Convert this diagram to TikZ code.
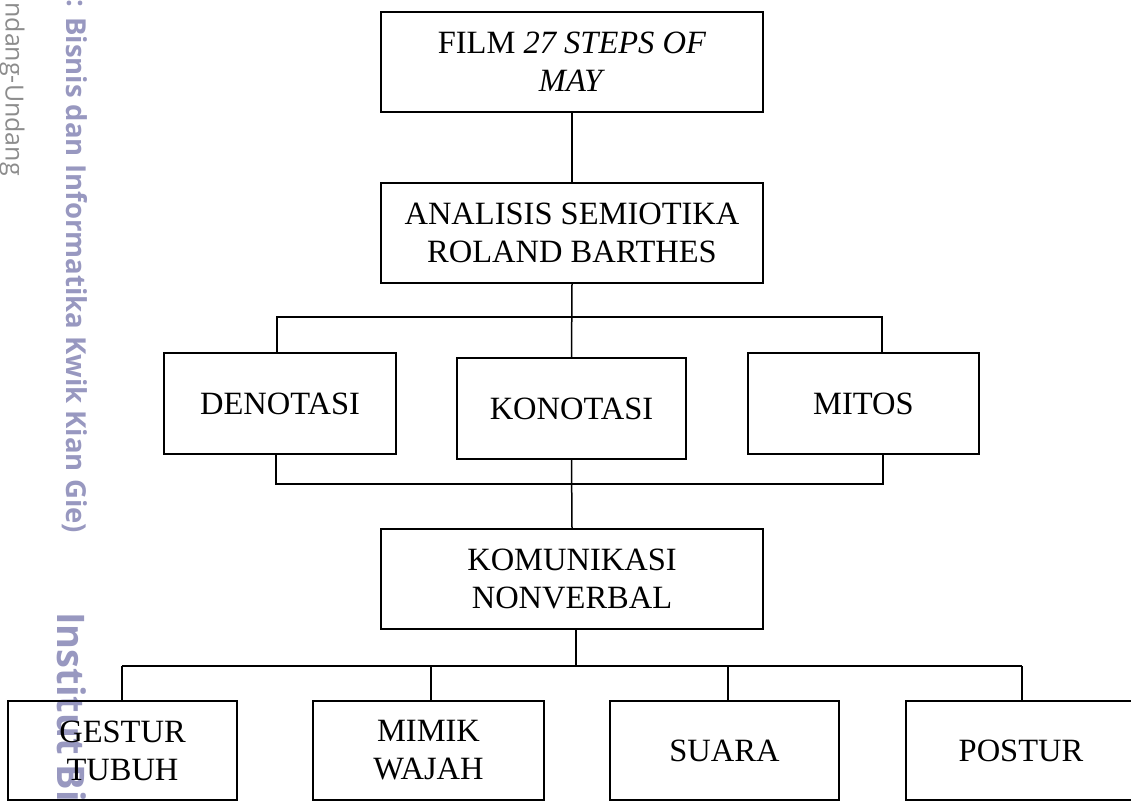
\documentclass[tikz,border=0pt]{standalone}
\usepackage{fontspec}
\setmainfont{Liberation Serif}
\newfontfamily\wmfont{Open Sans}
\definecolor{wmpurple}{RGB}{152,152,192}
\definecolor{wmgray}{RGB}{140,140,140}
\begin{document}
\begin{tikzpicture}[x=1pt,y=-1pt,
  box/.style={draw=black,line width=1.5pt,align=center,inner sep=0pt,
    font=\fontsize{32.5}{38}\selectfont},
  conn/.style={draw=black,line width=1.5pt},
  wm/.style={rotate=-90,inner sep=0pt,text=wmpurple,font=\wmfont\bfseries}]
\useasboundingbox (0,0) rectangle (1131,802);
% watermark
\node[rotate=-90,inner sep=0pt,text=wmgray,font=\wmfont\fontsize{25}{28}\selectfont,anchor=east] (wa) at (12,176) {ndang-Undang};
\node[wm,font=\wmfont\bfseries\fontsize{27.5}{30}\selectfont,anchor=west] (wb) at (75,17) {Bisnis dan Informatika Kwik Kian Gie)};
\node[wm,font=\wmfont\bfseries\fontsize{27.5}{30}\selectfont,anchor=east] (wc) at (75,8) {:};
\node[wm,font=\wmfont\bfseries\fontsize{38}{40}\selectfont,anchor=west] (wd) at (72,612) {Institut Bis};
% boxes
\node[box,minimum width=382pt,minimum height=100pt] (film) at (572,62) {FILM \textit{27 STEPS OF}\\\textit{MAY}};
\node[box,minimum width=382pt,minimum height=100pt] (ana) at (572,233) {ANALISIS SEMIOTIKA\\ROLAND BARTHES};
\node[box,minimum width=232pt,minimum height=101pt] (den) at (280,403.5) {DENOTASI};
\node[box,minimum width=229pt,minimum height=101pt] (kon) at (571.5,408.5) {KONOTASI};
\node[box,minimum width=231pt,minimum height=101pt] (mit) at (863.5,403.5) {MITOS};
\node[box,minimum width=382pt,minimum height=100pt] (kom) at (572,579) {KOMUNIKASI\\NONVERBAL};
\node[box,minimum width=229pt,minimum height=99pt] (ges) at (122.5,750.5) {GESTUR\\TUBUH};
\node[box,minimum width=231pt,minimum height=99pt] (mim) at (428.5,750.5) {MIMIK\\WAJAH};
\node[box,minimum width=229pt,minimum height=99pt] (sua) at (724.5,750.5) {SUARA};
\node[box,minimum width=230pt,minimum height=99pt] (pos) at (1021,750.5) {POSTUR};
% junction coordinates
\coordinate (t1) at (277,317);
\coordinate (t3) at (882,317);
\coordinate (u1) at (276,484);
\coordinate (u3) at (883,484);
\coordinate (k0) at (576,666);
\coordinate (v1) at (122,666);
\coordinate (v2) at (431,666);
\coordinate (v3) at (728,666);
\coordinate (v4) at (1022,666);
% connectors
\draw[conn] (film.south) -- (ana.north);
\draw[conn] (ana.south) -- (kon.north);
\draw[conn] (den.north -| t1) -- (t1) -- (t3) -- (mit.north -| t3);
\draw[conn] (den.south -| u1) -- (u1) -- (u3) -- (mit.south -| u3);
\draw[conn] (kon.south) -- (kom.north);
\draw[conn] (kom.south -| k0) -- (k0);
\draw[conn] (v1) -- (v4);
\draw[conn] (v1) -- (ges.north -| v1);
\draw[conn] (v2) -- (mim.north -| v2);
\draw[conn] (v3) -- (sua.north -| v3);
\draw[conn] (v4) -- (pos.north -| v4);
\end{tikzpicture}
\end{document}
